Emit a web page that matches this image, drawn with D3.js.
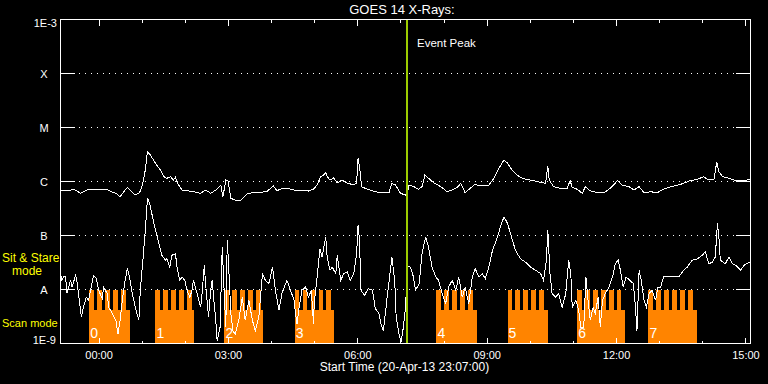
<!DOCTYPE html>
<html lang="en">
<head>
<meta charset="UTF-8">
<title>GOES 14 X-Rays</title>
<script src="https://cdn.jsdelivr.net/npm/d3@7"></script>
<style>
  html, body { margin: 0; background: #000; }
  svg { display: block; font-family: "Liberation Sans", Arial, sans-serif; }
</style>
</head>
<body>
<div id="chart"></div>
<script>
// plotted window starts 20-Apr-13 23:07 UTC and lasts 16 hours
const START = Date.UTC(2013, 3, 20, 23, 7);
const SPAN_MIN = 960;

// long channel (1-8 A): [minutes after start, flux in nW/m^2]
const longChannel = [
  [0,695],[9,675],[19,717],[28,604],[37,695],[49,726],[65,717],[70,647],[77,604],[83,522],
  [88,647],[93,770],[97,695],[104,561],[110,620],[114,861],[118,1636],[121,3580],[125,3105],[132,2180],
  [139,1636],[144,1228],[148,1147],[153,1228],[157,1067],[160,1200],[163,926],[169,695],[185,647],[195,604],
  [202,695],[209,604],[216,695],[223,861],[226,522],[230,1067],[233,1035],[237,488],[243,453],[250,434],
  [260,604],[269,620],[278,620],[288,666],[296,826],[301,675],[310,757],[320,726],[329,675],[338,695],
  [345,666],[352,726],[357,861],[362,1228],[366,1321],[369,1459],[371,1228],[375,1067],[380,1162],[385,938],
  [392,1067],[399,938],[408,861],[412,938],[414,2700],[416,1884],[419,801],[427,717],[435,666],[445,620],
  [457,620],[461,926],[466,861],[473,604],[480,561],[482,579],[485,861],[492,801],[498,717],[503,801],
  [507,1321],[512,1147],[519,950],[529,801],[538,647],[545,695],[552,781],[557,926],[563,620],[570,748],
  [577,888],[584,826],[596,861],[603,1147],[610,1760],[617,2510],[622,2180],[628,1636],[638,1228],[647,1099],
  [658,1035],[670,950],[675,926],[678,1942],[680,1067],[686,801],[696,748],[705,748],[709,1035],[712,781],
  [719,717],[726,604],[730,801],[737,675],[747,620],[756,620],[765,748],[775,1035],[781,861],[791,801],
  [798,695],[805,801],[812,620],[821,647],[830,620],[839,717],[849,801],[863,888],[876,1035],[886,1099],
  [895,1228],[900,1099],[909,1067],[913,2277],[916,1522],[921,1228],[930,1147],[937,1067],[941,1021],[955,1067],
  [960,1099]
];

// short channel (0.5-4 A): [minutes after start, flux in nW/m^2]
const shortChannel = [
  [0,20],[2,14.8],[4,17.1],[7,17.1],[9,8.5],[14,14.8],[16,11.1],[21,18.3],[23,13.8],[25,8.4],
  [29,3.1],[32,4.7],[36,7.2],[39,6.3],[46,18.3],[50,15.9],[53,9.7],[58,6.8],[60,11.1],[65,8.4],
  [67,4.7],[72,3.6],[77,2.7],[80,1.5],[83,2.7],[86,6.3],[90,14.8],[93,24.4],[95,19.7],[100,8.4],
  [104,4.7],[109,2.7],[111,9.7],[115,40],[118,126],[121,488],[124,394],[130,167],[137,71],[141,43],
  [146,35],[148,37],[152,26],[155,43],[160,46],[162,26],[166,14.8],[169,17.1],[173,14.8],[176,9.7],
  [180,7.2],[183,9.7],[185,14.8],[190,8.4],[195,4.7],[197,8.4],[200,28],[203,8.4],[206,3.1],[209,9.7],
  [211,14.8],[213,7.2],[216,2.7],[218,1.1],[222,2.0],[225,61],[227,14.8],[230,2.0],[232,82],[234,26],
  [237,3.6],[240,1.7],[243,1.5],[248,2.7],[253,7.2],[257,2.7],[262,6.3],[267,2.7],[271,1.7],[276,3.1],
  [281,19.7],[285,14.8],[290,12.9],[295,26],[299,9.7],[304,4.1],[308,8.4],[315,14.8],[320,9.7],[325,6.3],
  [327,3.6],[329,2.3],[332,4.7],[336,9.7],[341,11.1],[345,7.2],[349,9.7],[352,2.3],[353,5.5],[357,17.1],
  [361,57],[364,40],[369,94],[371,40],[375,22.7],[378,26],[383,19.7],[385,43],[390,14.8],[394,19.7],
  [399,21],[403,14.8],[408,19.7],[412,46],[414,154],[416,82],[418,9.7],[423,7.8],[428,10.4],[434,9.7],
  [438,4.4],[443,3.6],[446,2.3],[449,1.7],[452,3.6],[455,8.4],[459,22.7],[461,40],[465,14.8],[467,3.1],
  [471,1.5],[474,1.06],[477,2.0],[480,4.7],[483,27],[487,26],[491,17.1],[494,9.7],[499,12.9],[503,46],
  [508,94],[512,61],[517,26],[522,17.1],[526,14.8],[531,8.4],[536,5.5],[540,11.1],[545,14.8],[550,9.7],
  [554,17.1],[559,7.2],[563,11.1],[568,5.5],[573,17.1],[577,24.4],[582,17.1],[587,19.7],[591,15.9],[596,26],
  [601,53],[608,94],[612,145],[617,222],[622,167],[626,109],[633,53],[640,37],[647,32],[654,26],
  [661,22.7],[668,19.7],[672,14.8],[676,35],[678,126],[681,19.7],[684,8.4],[689,7.2],[693,8.4],[698,4.7],
  [703,8.4],[707,35],[710,19.7],[712,4.7],[717,6.3],[721,4.1],[724,2.0],[728,2.0],[731,17.1],[734,6.3],
  [737,2.7],[741,4.7],[744,3.6],[748,7.2],[751,2.0],[754,6.3],[758,8.4],[763,11.1],[768,17.1],[772,30],
  [776,35],[779,22.7],[783,11.1],[787,17.1],[792,14.8],[797,12.9],[800,4.7],[802,1.7],[805,22.7],[808,14.8],
  [812,6.3],[815,4.7],[819,8.4],[823,9.7],[828,6.3],[831,11.1],[835,11.1],[839,17.1],[846,17.1],[853,17.1],
  [860,17.1],[867,22.7],[872,26],[879,35],[886,37],[893,43],[897,50],[902,30],[907,32],[911,40],
  [914,167],[916,94],[918,35],[925,30],[930,40],[935,30],[941,27],[946,22.7],[951,28],[958,32],
  [960,31]
];

// flare class levels (W/m^2) and their labels
const classLevels = [1e-3, 1e-4, 1e-5, 1e-6, 1e-7, 1e-8, 1e-9];
const classLabels = ["1E-3", "X", "M", "C", "B", "A", "1E-9"];

// observing blocks (minutes after start), scan mode with sit & stare teeth
const blockLabels = ["0", "1", "2", "3", "4", "5", "6", "7"];
const blockStart = [40, 132, 228, 326, 523, 622, 719, 818];
const blockEnd = [96, 186, 282, 381, 579, 678, 786, 885];
const blockTeeth = [5, 5, 5, 5, 5, 5, 6, 6];
const TOOTH_EVERY = 11;   // minutes between sit & stare pointings
const TOOTH_LEN = 6.5;    // minutes per sit & stare pointing
const stareLevel = 1e-8;
const scanLevel = 4.1e-9;

const eventPeak = 482;    // minutes after start

const W = 768, H = 384;
const ORANGE = "#ff8400", YELLOW = "#ffff00", PEAK = "#9ccc00";

const tm = m => new Date(START + m * 60000);
const x = d3.scaleUtc().domain([tm(0), tm(SPAN_MIN)]).range([60.5, 750.5]);
const y = d3.scaleLog().domain([1e-9, 1e-3]).range([343.5, 19.5]);

const svg = d3.select("#chart").append("svg")
    .attr("width", W).attr("height", H);
svg.append("rect").attr("width", W).attr("height", H).attr("fill", "#000");

// orange observing timeline
const blocks = svg.append("g").attr("fill", ORANGE).attr("shape-rendering", "crispEdges");
blockStart.forEach((s, i) => {
    blocks.append("rect")
        .attr("x", x(tm(s))).attr("y", y(scanLevel))
        .attr("width", x(tm(blockEnd[i])) - x(tm(s)))
        .attr("height", y(1e-9) - y(scanLevel));
    d3.range(blockTeeth[i]).forEach(k => {
        const t0 = s + k * TOOTH_EVERY;
        blocks.append("rect")
            .attr("x", x(tm(t0))).attr("y", y(stareLevel))
            .attr("width", x(tm(t0 + TOOTH_LEN)) - x(tm(t0)))
            .attr("height", y(scanLevel) - y(stareLevel) + 1);
    });
    svg.append("text")
        .attr("x", x(tm(s)) + 1).attr("y", 338)
        .attr("fill", "#fff").attr("font-size", 14)
        .text(blockLabels[i]);
});

// class ticks and dotted grid
const inner = classLevels.slice(1, -1);
const grid = svg.append("g").attr("stroke", "#fff").attr("shape-rendering", "crispEdges");
inner.forEach(v => {
    grid.append("line").attr("x1", 60).attr("x2", 75).attr("y1", y(v)).attr("y2", y(v));
    grid.append("line").attr("x1", 736).attr("x2", 751).attr("y1", y(v)).attr("y2", y(v));
    grid.append("line").attr("x1", 79).attr("x2", 736).attr("y1", y(v)).attr("y2", y(v))
        .attr("stroke-dasharray", "1,5");
});

// flux curves
const line = d3.line()
    .x(d => x(tm(d[0])))
    .y(d => y(d[1] * 1e-9));
svg.append("path").datum(longChannel)
    .attr("d", line).attr("fill", "none").attr("stroke", "#fff")
    .attr("stroke-width", 1).attr("shape-rendering", "crispEdges");
svg.append("path").datum(shortChannel)
    .attr("d", line).attr("fill", "none").attr("stroke", "#fff")
    .attr("stroke-width", 1).attr("shape-rendering", "crispEdges");

// event peak marker
const px = Math.round(x(tm(eventPeak)));
svg.append("line")
    .attr("x1", px).attr("x2", px).attr("y1", 19).attr("y2", 343)
    .attr("stroke", PEAK).attr("stroke-width", 2);
svg.append("text")
    .attr("x", px + 10).attr("y", 47)
    .attr("fill", "#fff").attr("font-size", 11.5)
    .text("Event Peak");

// frame
svg.append("rect")
    .attr("x", 60.5).attr("y", 19.5).attr("width", 690).attr("height", 324)
    .attr("fill", "none").attr("stroke", "#fff").attr("shape-rendering", "crispEdges");

// time axes: hour ticks top and bottom, 3-hour ticks longer and labelled
const styleAxis = g => {
    g.select(".domain").remove();
    g.attr("font-family", null).attr("font-size", 11);
    g.selectAll("line").attr("stroke", "#fff").attr("shape-rendering", "crispEdges");
    g.selectAll("text").attr("fill", "#fff");
};
svg.append("g").attr("transform", "translate(0,19.5)")
    .call(d3.axisTop(x).ticks(d3.utcHour.every(1)).tickSize(-3).tickFormat(""))
    .call(styleAxis);
svg.append("g").attr("transform", "translate(0,19.5)")
    .call(d3.axisTop(x).ticks(d3.utcHour.every(3)).tickSize(-6).tickFormat(""))
    .call(styleAxis);
svg.append("g").attr("transform", "translate(0,343.5)")
    .call(d3.axisBottom(x).ticks(d3.utcHour.every(1)).tickSize(-3).tickFormat(""))
    .call(styleAxis);
svg.append("g").attr("transform", "translate(0,343.5)")
    .call(d3.axisBottom(x).ticks(d3.utcHour.every(3)).tickSize(-6).tickPadding(8)
        .tickFormat(d3.utcFormat("%H:%M")))
    .call(styleAxis);

// class labels
classLevels.forEach((v, i) => {
    const t = svg.append("text").attr("fill", "#fff").attr("font-size", 11).text(classLabels[i]);
    if (i === 0) t.attr("x", 57).attr("y", y(v) + 7.5).attr("text-anchor", "end");
    else if (i === classLevels.length - 1) t.attr("x", 56).attr("y", y(v)).attr("text-anchor", "end");
    else t.attr("x", 44).attr("y", y(v) + 4).attr("text-anchor", "middle");
});

// mode labels
const modeText = [["Sit & Stare", 2, 262, 12], ["mode", 12, 275, 12], ["Scan mode", 2, 327, 11]];
modeText.forEach(([s, tx, ty, fs]) => {
    svg.append("text").attr("x", tx).attr("y", ty)
        .attr("fill", YELLOW).attr("font-size", fs)
        .text(s);
});

// titles
svg.append("text").attr("x", 402).attr("y", 14)
    .attr("text-anchor", "middle").attr("fill", "#fff").attr("font-size", 13)
    .text("GOES 14 X-Rays:");
svg.append("text").attr("x", 404.5).attr("y", 371)
    .attr("text-anchor", "middle").attr("fill", "#fff").attr("font-size", 12)
    .text("Start Time (20-Apr-13 23:07:00)");
</script>
</body>
</html>
